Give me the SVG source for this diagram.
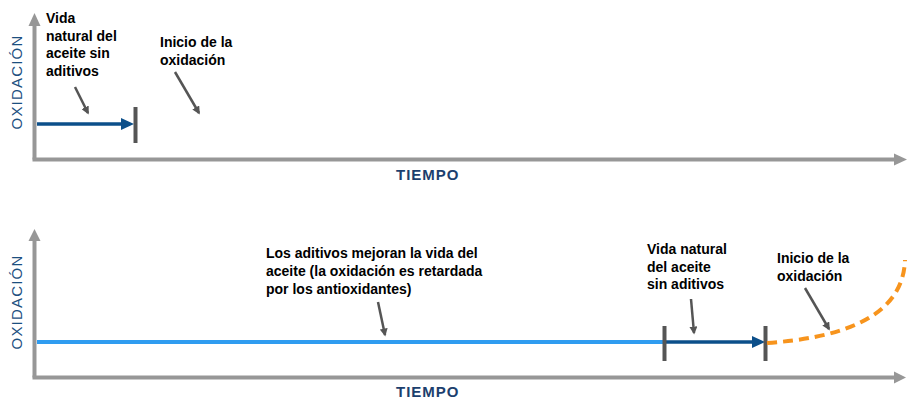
<svg xmlns="http://www.w3.org/2000/svg" width="919" height="412" viewBox="0 0 919 412">
<style>
.lbl{font-family:"Liberation Sans",Arial,sans-serif;font-size:14px;font-weight:bold;fill:#000}
.axt{font-family:"Liberation Sans",Arial,sans-serif;font-size:15px;font-weight:bold;fill:#1c3f6e;letter-spacing:1px}
.oxl{font-family:"Liberation Sans",Arial,sans-serif;font-size:15px;fill:#1c4f7f;letter-spacing:1.2px}
.axis{stroke:#979797;stroke-width:4;fill:none}
.ptr{stroke:#555;stroke-width:2.5;fill:none;marker-end:url(#ph)}
.tick{stroke:#555;stroke-width:4}
</style>
<defs>
<marker id="ph" viewBox="0 0 10 10" refX="8" refY="5" markerUnits="userSpaceOnUse" markerWidth="8" markerHeight="8" orient="auto"><path d="M0,0 L10,5 L0,10 Z" fill="#555"/></marker>
</defs>
<g id="connectors">
<!-- top chart axes -->
<path class="axis" d="M34.5,159.5 V25"/>
<path d="M28.5,26 L34.5,13 L40.5,26 Z" fill="#979797"/>
<path class="axis" d="M32.5,159.5 H895"/>
<path d="M894,153.5 L907,159.5 L894,165.5 Z" fill="#979797"/>
<!-- top blue arrow -->
<line x1="37" y1="124" x2="123" y2="124" stroke="#0c4f8a" stroke-width="3.5"/>
<path d="M121,118 L134,124 L121,130 Z" fill="#0c4f8a"/>
<line class="tick" x1="135.5" y1="107" x2="135.5" y2="143"/>
<!-- top pointers -->
<line class="ptr" x1="75" y1="87" x2="88" y2="113"/>
<line class="ptr" x1="175" y1="72" x2="199" y2="113"/>
<!-- bottom chart axes -->
<path class="axis" d="M34.5,377.5 V240"/>
<path d="M28.5,241 L34.5,229 L40.5,241 Z" fill="#979797"/>
<path class="axis" d="M32.5,377.5 H895"/>
<path d="M894,371.5 L906,377.5 L894,383.5 Z" fill="#979797"/>
<!-- bottom lines -->
<line x1="37" y1="342" x2="664" y2="342" stroke="#2f9cf0" stroke-width="4"/>
<line x1="664" y1="342" x2="754" y2="342" stroke="#0c4f8a" stroke-width="3.5"/>
<path d="M752,336 L765,342 L752,348 Z" fill="#0c4f8a"/>
<line class="tick" x1="664.5" y1="326" x2="664.5" y2="361"/>
<line class="tick" x1="765.5" y1="326" x2="765.5" y2="361"/>
<path d="M767,343 C840,338 903,318 905,260" fill="none" stroke="#f7941d" stroke-width="4" stroke-dasharray="10,6"/>
<!-- bottom pointers -->
<line class="ptr" x1="378" y1="302" x2="385" y2="335"/>
<line class="ptr" x1="691" y1="299" x2="694" y2="333"/>
<line class="ptr" x1="805" y1="288" x2="829" y2="329"/>
</g>
<g id="axis-labels">
<text class="oxl" transform="translate(22,82) rotate(-90)" text-anchor="middle">OXIDACIÓN</text>
<text class="oxl" transform="translate(22,302) rotate(-90)" text-anchor="middle">OXIDACIÓN</text>
<text class="axt" x="396" y="180">TIEMPO</text>
<text class="axt" x="396" y="397">TIEMPO</text>
</g>
<g id="n-vida-top">
<text class="lbl" x="46" y="23">Vida</text>
<text class="lbl" x="46" y="40.5">natural del</text>
<text class="lbl" x="46" y="58">aceite sin</text>
<text class="lbl" x="46" y="76">aditivos</text>
</g>
<g id="n-inicio-top">
<text class="lbl" x="160" y="47">Inicio de la</text>
<text class="lbl" x="160" y="65">oxidación</text>
</g>
<g id="n-aditivos">
<text class="lbl" x="266" y="258">Los aditivos mejoran la vida del</text>
<text class="lbl" x="266" y="276">aceite (la oxidación es retardada</text>
<text class="lbl" x="266" y="294">por los antioxidantes)</text>
</g>
<g id="n-vida-bottom">
<text class="lbl" x="647" y="254">Vida natural</text>
<text class="lbl" x="647" y="272">del aceite</text>
<text class="lbl" x="647" y="289">sin aditivos</text>
</g>
<g id="n-inicio-bottom">
<text class="lbl" x="777" y="263">Inicio de la</text>
<text class="lbl" x="777" y="281">oxidación</text>
</g>
</svg>
